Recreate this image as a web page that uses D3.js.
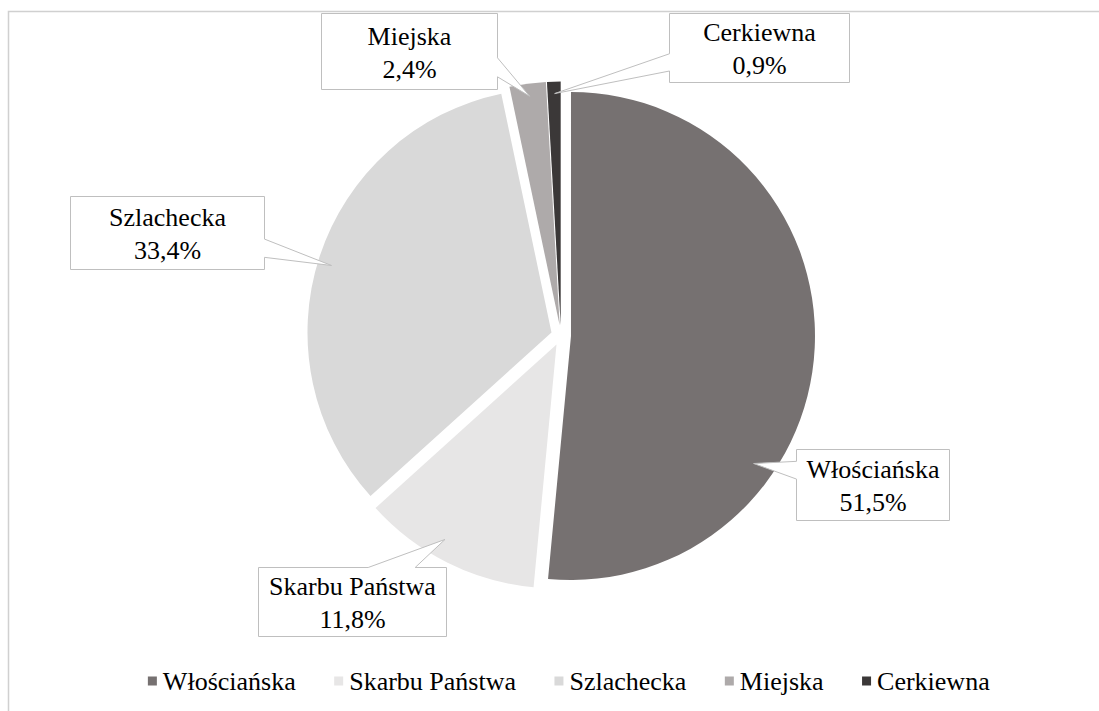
<!DOCTYPE html>
<html>
<head>
<meta charset="utf-8">
<script src="https://cdn.jsdelivr.net/npm/d3@7"></script>
<style>
  body { margin: 0; background: #fff; }
</style>
</head>
<body>
<div id="chart"></div>
<script>
// dane
const categories = ["Włościańska", "Skarbu Państwa", "Szlachecka", "Miejska", "Cerkiewna"];
const shares = [51.5, 11.8, 33.4, 2.4, 0.9];
const labels = ["51,5%", "11,8%", "33,4%", "2,4%", "0,9%"];
const colors = ["#767171", "#e7e6e6", "#d9d9d9", "#aeaaaa", "#3b3838"];

// rozmieszczenie etykiet (ramki) i grotów
const labelBoxes = [
    [796, 449, 153, 71],
    [258, 567, 188, 69],
    [70, 196, 194, 73],
    [321, 13, 176, 76],
    [669, 13, 180, 69]
];
const tipAngleShift = [32.2, 3.3, -1, 0, 0];   // stopnie względem dwusiecznej
const tipRadius = [0.91, 0.92, 0.945, 0.95, 0.953];

const width = 1099, height = 711;
const cx = 561, cy = 335.5, radius = 244, explode = 10;
const fontSize = 26;
const fontFamily = "'Liberation Serif', 'Times New Roman', serif";

const svg = d3.select("#chart")
    .append("svg")
    .attr("width", width)
    .attr("height", height)
    .style("font-family", fontFamily);

// ramka wykresu
svg.append("rect")
    .attr("x", 8.5).attr("y", 11.5)
    .attr("width", width).attr("height", height)
    .attr("fill", "none")
    .attr("stroke", "#d0d0d0")
    .attr("stroke-width", 1.5);

const data = categories.map((c, i) => ({ category: c, value: shares[i], label: labels[i], color: colors[i] }));

const pie = d3.pie().sort(null).value(d => d.value);
const arcs = pie(data);
const arc = d3.arc().innerRadius(0).outerRadius(radius);

// środek każdego wysuniętego wycinka
arcs.forEach(a => {
    const mid = (a.startAngle + a.endAngle) / 2;
    a.ox = cx + explode * Math.sin(mid);
    a.oy = cy - explode * Math.cos(mid);
    a.mid = mid;
});

svg.append("g")
    .selectAll("path")
    .data(arcs)
    .join("path")
    .attr("transform", d => `translate(${d.ox},${d.oy})`)
    .attr("d", arc)
    .attr("fill", d => d.data.color);

// etykiety z grotem (wedgeRectCallout)
function calloutPath(w, h, tx, ty) {
    const dx = tx - w / 2, dy = ty - h / 2;
    const dq = dx * h / w;
    const x1 = w * (dx > 0 ? 7 : 2) / 12, x2 = w * (dx > 0 ? 10 : 5) / 12;
    const y1 = h * (dy > 0 ? 7 : 2) / 12, y2 = h * (dy > 0 ? 10 : 5) / 12;
    const p = d3.path();
    if (Math.abs(dy) > Math.abs(dq)) {
        if (dy < 0) {
            p.moveTo(0, 0); p.lineTo(x1, 0); p.lineTo(tx, ty); p.lineTo(x2, 0);
            p.lineTo(w, 0); p.lineTo(w, h); p.lineTo(0, h);
        } else {
            p.moveTo(0, 0); p.lineTo(w, 0); p.lineTo(w, h); p.lineTo(x2, h);
            p.lineTo(tx, ty); p.lineTo(x1, h); p.lineTo(0, h);
        }
    } else {
        if (dx < 0) {
            p.moveTo(0, 0); p.lineTo(w, 0); p.lineTo(w, h); p.lineTo(0, h);
            p.lineTo(0, y2); p.lineTo(tx, ty); p.lineTo(0, y1);
        } else {
            p.moveTo(0, 0); p.lineTo(w, 0); p.lineTo(w, y1); p.lineTo(tx, ty);
            p.lineTo(w, y2); p.lineTo(w, h); p.lineTo(0, h);
        }
    }
    p.closePath();
    return p.toString();
}

const lab = svg.append("g")
    .selectAll("g")
    .data(arcs)
    .join("g")
    .attr("transform", (d, i) => `translate(${labelBoxes[i][0] + 0.5},${labelBoxes[i][1] + 0.5})`);

lab.append("path")
    .attr("d", (d, i) => {
        const [bx, by, bw, bh] = labelBoxes[i];
        const ang = d.mid + tipAngleShift[i] * Math.PI / 180;
        const tx = d.ox + radius * tipRadius[i] * Math.sin(ang) - bx;
        const ty = d.oy - radius * tipRadius[i] * Math.cos(ang) - by;
        return calloutPath(bw, bh, tx, ty);
    })
    .attr("fill", "#fff")
    .attr("stroke", "#bfbfbf")
    .attr("stroke-width", 1);

lab.append("text")
    .attr("x", (d, i) => labelBoxes[i][2] / 2)
    .attr("y", (d, i) => labelBoxes[i][3] / 2 - 16)
    .attr("dy", "0.35em")
    .attr("text-anchor", "middle")
    .style("font-size", fontSize + "px")
    .attr("fill", "#000")
    .text(d => d.data.category);

lab.append("text")
    .attr("x", (d, i) => labelBoxes[i][2] / 2)
    .attr("y", (d, i) => labelBoxes[i][3] / 2 + 17)
    .attr("dy", "0.35em")
    .attr("text-anchor", "middle")
    .style("font-size", fontSize + "px")
    .attr("fill", "#000")
    .text(d => d.data.label);

// legenda
const legend = svg.append("g").attr("transform", "translate(0,681)");
const items = legend.selectAll("g")
    .data(data)
    .join("g");

items.append("rect")
    .attr("y", -4.5)
    .attr("width", 9).attr("height", 9)
    .attr("fill", d => d.color);

items.append("text")
    .attr("x", 15)
    .attr("dy", "0.35em")
    .style("font-size", fontSize + "px")
    .attr("fill", "#000")
    .text(d => d.category);

const gap = 38;
let pos = 0;
const offsets = [];
items.each(function () {
    offsets.push(pos);
    pos += this.getBBox().width + gap;
});
const legendWidth = pos - gap;
const startX = 569 - legendWidth / 2;
items.attr("transform", (d, i) => `translate(${startX + offsets[i]},0)`);
</script>
</body>
</html>
